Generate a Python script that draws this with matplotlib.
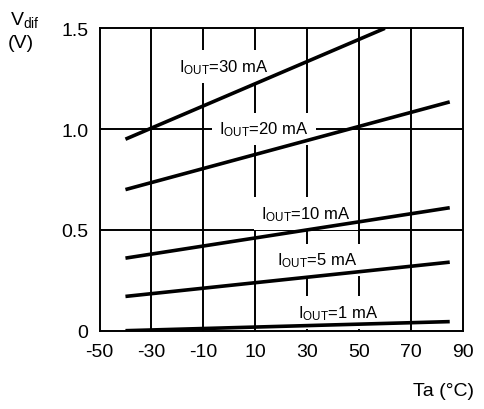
import matplotlib
matplotlib.use("Agg")
import matplotlib.pyplot as plt

plt.rcParams['font.family'] = ['Liberation Sans', 'DejaVu Sans']
plt.rcParams['mathtext.fontset'] = 'custom'
plt.rcParams['mathtext.rm'] = 'Liberation Sans'
plt.rcParams['mathtext.it'] = 'Liberation Sans'
plt.rcParams['axes.unicode_minus'] = False

# Vdif vs Ta (straight lines)
temp = [-40, 85]
v_1ma = [0.0, 0.045]
v_5ma = [0.17, 0.34]
v_10ma = [0.36, 0.61]
v_20ma = [0.70, 1.135]
temp_30ma = [-40, 60]
v_30ma = [0.95, 1.50]

curve_labels = ["30", "20", "10", "5", "1"]
label_x = [-2, 13.5, 29.5, 34, 42]
label_y = [1.31, 1.0, 0.58, 0.35, 0.09]

xticks = [-50, -30, -10, 10, 30, 50, 70, 90]
yticks = [0, 0.5, 1.0, 1.5]
yticklabels = ["0", "0.5", "1.0", "1.5"]

fig = plt.figure(figsize=(4.84, 4.10), dpi=100)
ax = fig.add_axes([0.2056, 0.191, 0.7504, 0.7375])

# grid lines
for gx in [-30, -10, 10, 30, 50, 70]:
    ax.axvline(gx, color='black', lw=1.4, zorder=1)
for gy in [0.5, 1.0]:
    ax.axhline(gy, color='black', lw=1.4, zorder=1)

for xs, ys in [(temp, v_1ma), (temp, v_5ma), (temp, v_10ma), (temp, v_20ma), (temp_30ma, v_30ma)]:
    ax.plot(xs, ys, color='black', lw=2.6, solid_capstyle='butt', zorder=4)

for lab, lx, ly in zip(curve_labels, label_x, label_y):
    ax.text(lx, ly, r"I$_{\mathrm{OUT}}$=" + lab + " mA", fontsize=12, ha='center', va='center',
            zorder=3, bbox=dict(facecolor='white', edgecolor='none', pad=5))

ax.set_xlim(-50, 90)
ax.set_ylim(0, 1.5)
ax.set_xticks(xticks)
ax.set_yticks(yticks)
ax.set_yticklabels(yticklabels)
ax.tick_params(length=0, labelsize=14)
ax.tick_params(axis='y', pad=8)
ax.tick_params(axis='x', pad=9)
for sp in ax.spines.values():
    sp.set_linewidth(1.4)
    sp.set_zorder(5)

fig.text(10 / 484, 1 - 20 / 410, r"V$_{\mathrm{dif}}$", fontsize=14, ha='left', va='center')
fig.text(8 / 484, 1 - 44 / 410, "(V)", fontsize=14, ha='left', va='center')
fig.text(413 / 484, 1 - 392 / 410, "Ta (°C)", fontsize=14, ha='left', va='center')

fig.savefig("out.png", dpi=100)
